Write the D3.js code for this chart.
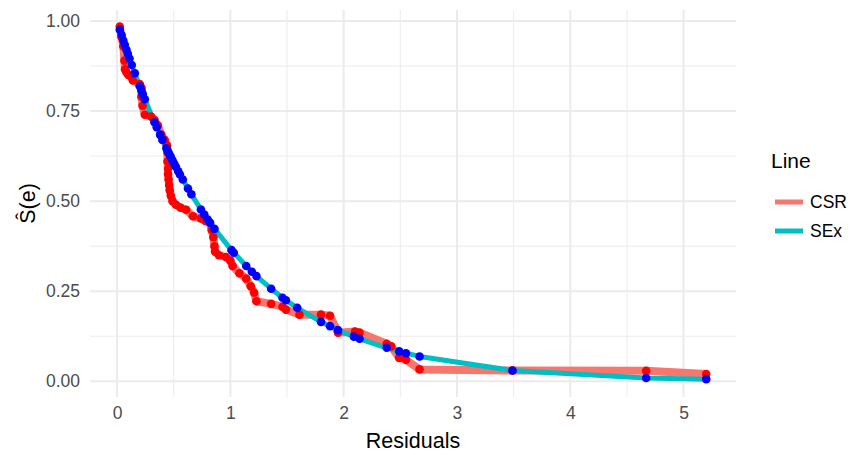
<!DOCTYPE html>
<html>
<head>
<meta charset="utf-8">
<script src="https://cdn.jsdelivr.net/npm/d3@7"></script>
<style>
  html, body { margin: 0; padding: 0; background: #fff; }
  svg { display: block; font-family: "Liberation Sans", Arial, sans-serif; }
</style>
</head>
<body>
<svg id="chart" width="864" height="457"></svg>
<script>
// ---- data ----
const csrX = [0.024,0.04,0.055,0.065,0.07,0.083,0.10,0.127,0.14,0.20,0.215,0.215,0.225,0.245,0.30,0.33,0.36,0.39,0.42,0.44,0.445,0.445,0.45,0.45,0.455,0.46,0.465,0.475,0.49,0.52,0.56,0.61,0.67,0.74,0.78,0.82,0.835,0.85,0.86,0.865,0.90,0.96,1.00,1.02,1.08,1.14,1.18,1.21,1.23,1.36,1.46,1.49,1.61,1.80,1.88,1.95,2.10,2.14,2.38,2.42,2.49,2.55,2.67,3.49,4.67,5.20];
const csrY = [0.985,0.955,0.93,0.89,0.866,0.858,0.85,0.845,0.835,0.825,0.815,0.79,0.765,0.74,0.735,0.725,0.71,0.685,0.67,0.655,0.635,0.61,0.59,0.575,0.56,0.545,0.53,0.515,0.50,0.49,0.482,0.476,0.458,0.452,0.445,0.44,0.42,0.40,0.375,0.36,0.35,0.345,0.335,0.32,0.30,0.285,0.264,0.246,0.222,0.215,0.207,0.199,0.185,0.185,0.182,0.135,0.138,0.135,0.104,0.097,0.065,0.06,0.033,0.030,0.029,0.020];
const sexX = [0.024,0.04,0.055,0.068,0.083,0.095,0.11,0.13,0.157,0.20,0.215,0.227,0.245,0.33,0.35,0.38,0.40,0.435,0.445,0.455,0.465,0.475,0.49,0.505,0.52,0.54,0.555,0.58,0.626,0.656,0.74,0.77,0.80,0.82,0.86,1.01,1.03,1.14,1.19,1.23,1.36,1.46,1.49,1.59,1.80,1.88,1.95,2.09,2.14,2.38,2.49,2.55,2.67,3.49,4.67,5.20];
const sexY = [0.976,0.961,0.946,0.934,0.920,0.909,0.896,0.878,0.855,0.819,0.807,0.797,0.783,0.719,0.705,0.684,0.670,0.647,0.641,0.634,0.628,0.622,0.613,0.604,0.595,0.583,0.574,0.560,0.535,0.519,0.477,0.463,0.449,0.440,0.423,0.364,0.357,0.320,0.304,0.292,0.257,0.232,0.225,0.204,0.165,0.153,0.142,0.124,0.118,0.093,0.083,0.078,0.069,0.030,0.009,0.006];
const xTicks = [0,1,2,3,4,5];
const xMinor = [0.5,1.5,2.5,3.5,4.5];
const yTicks = [0,0.25,0.5,0.75,1];
const yMinor = [0.125,0.375,0.625,0.875];
const seriesNames = ["CSR","SEx"];
const lineColors = ["#F8766D","#00BFC4"];
const pointColors = ["#FF0000","#0000FF"];

// ---- layout ----
const svg = d3.select("#chart");
const panel = {left: 90, right: 736, top: 10, bottom: 397};
const x = d3.scaleLinear().domain([-0.2388, 5.4628]).range([panel.left, panel.right]);
const y = d3.scaleLinear().domain([-0.0436, 1.0306]).range([panel.bottom, panel.top]);

const g = svg.append("g");
// grid
g.selectAll(".xmin").data(xMinor).join("line")
  .attr("x1", d => x(d)).attr("x2", d => x(d)).attr("y1", panel.top).attr("y2", panel.bottom)
  .attr("stroke", "#EBEBEB").attr("stroke-width", 1);
g.selectAll(".ymin").data(yMinor).join("line")
  .attr("y1", d => y(d)).attr("y2", d => y(d)).attr("x1", panel.left).attr("x2", panel.right)
  .attr("stroke", "#EBEBEB").attr("stroke-width", 1);
g.selectAll(".xmaj").data(xTicks).join("line")
  .attr("x1", d => x(d)).attr("x2", d => x(d)).attr("y1", panel.top).attr("y2", panel.bottom)
  .attr("stroke", "#EBEBEB").attr("stroke-width", 2);
g.selectAll(".ymaj").data(yTicks).join("line")
  .attr("y1", d => y(d)).attr("y2", d => y(d)).attr("x1", panel.left).attr("x2", panel.right)
  .attr("stroke", "#EBEBEB").attr("stroke-width", 2);

// axes labels via d3 axes (no lines)
const xAxis = svg.append("g").attr("transform", `translate(0,${panel.bottom})`)
  .call(d3.axisBottom(x).tickValues(xTicks).tickFormat(d3.format("d")).tickSize(0).tickPadding(10));
const yAxis = svg.append("g").attr("transform", `translate(${panel.left},0)`)
  .call(d3.axisLeft(y).tickValues(yTicks).tickFormat(d3.format(".2f")).tickSize(0).tickPadding(10));
[xAxis, yAxis].forEach(a => {
  a.select(".domain").remove();
  a.selectAll("text").attr("fill", "#4D4D4D").style("font-size", "17.5px")
    .style("font-family", '"Liberation Sans", Arial, sans-serif');
});

// lines
const line = d3.line().x(d => x(d[0])).y(d => y(d[1]));
const csr = csrX.map((v, i) => [v, csrY[i]]);
const sex = sexX.map((v, i) => [v, sexY[i]]);
svg.append("path").datum(csr).attr("d", line).attr("fill", "none")
  .attr("stroke", lineColors[0]).attr("stroke-width", 8).attr("stroke-linejoin", "round").attr("stroke-linecap", "butt");
svg.append("path").datum(sex).attr("d", line).attr("fill", "none")
  .attr("stroke", lineColors[1]).attr("stroke-width", 5).attr("stroke-linejoin", "round");

// points
svg.append("g").selectAll("circle").data(csr).join("circle")
  .attr("cx", d => x(d[0])).attr("cy", d => y(d[1])).attr("r", 4.3).attr("fill", pointColors[0]);
svg.append("g").selectAll("circle").data(sex).join("circle")
  .attr("cx", d => x(d[0])).attr("cy", d => y(d[1])).attr("r", 4.3).attr("fill", pointColors[1]);

// axis titles
svg.append("text").attr("x", (panel.left + panel.right) / 2).attr("y", 448)
  .attr("text-anchor", "middle").style("font-size", "21.5px").attr("fill", "#000").text("Residuals");
svg.append("text").attr("transform", `translate(35,${(panel.top + panel.bottom) / 2}) rotate(-90)`)
  .attr("text-anchor", "middle").style("font-size", "21.5px").attr("fill", "#000").text("Ŝ(e)");

// legend
const lg = svg.append("g");
lg.append("text").attr("x", 771).attr("y", 168).style("font-size", "21px").attr("fill", "#000").text("Line");
seriesNames.forEach((s, i) => {
  const cy = 202 + i * 29;
  lg.append("line").attr("x1", 775).attr("x2", 803).attr("y1", cy).attr("y2", cy)
    .attr("stroke", lineColors[i]).attr("stroke-width", 5);
  lg.append("text").attr("x", 810).attr("y", cy + 6).style("font-size", "17.5px").attr("fill", "#000").text(s);
});
</script>
</body>
</html>
